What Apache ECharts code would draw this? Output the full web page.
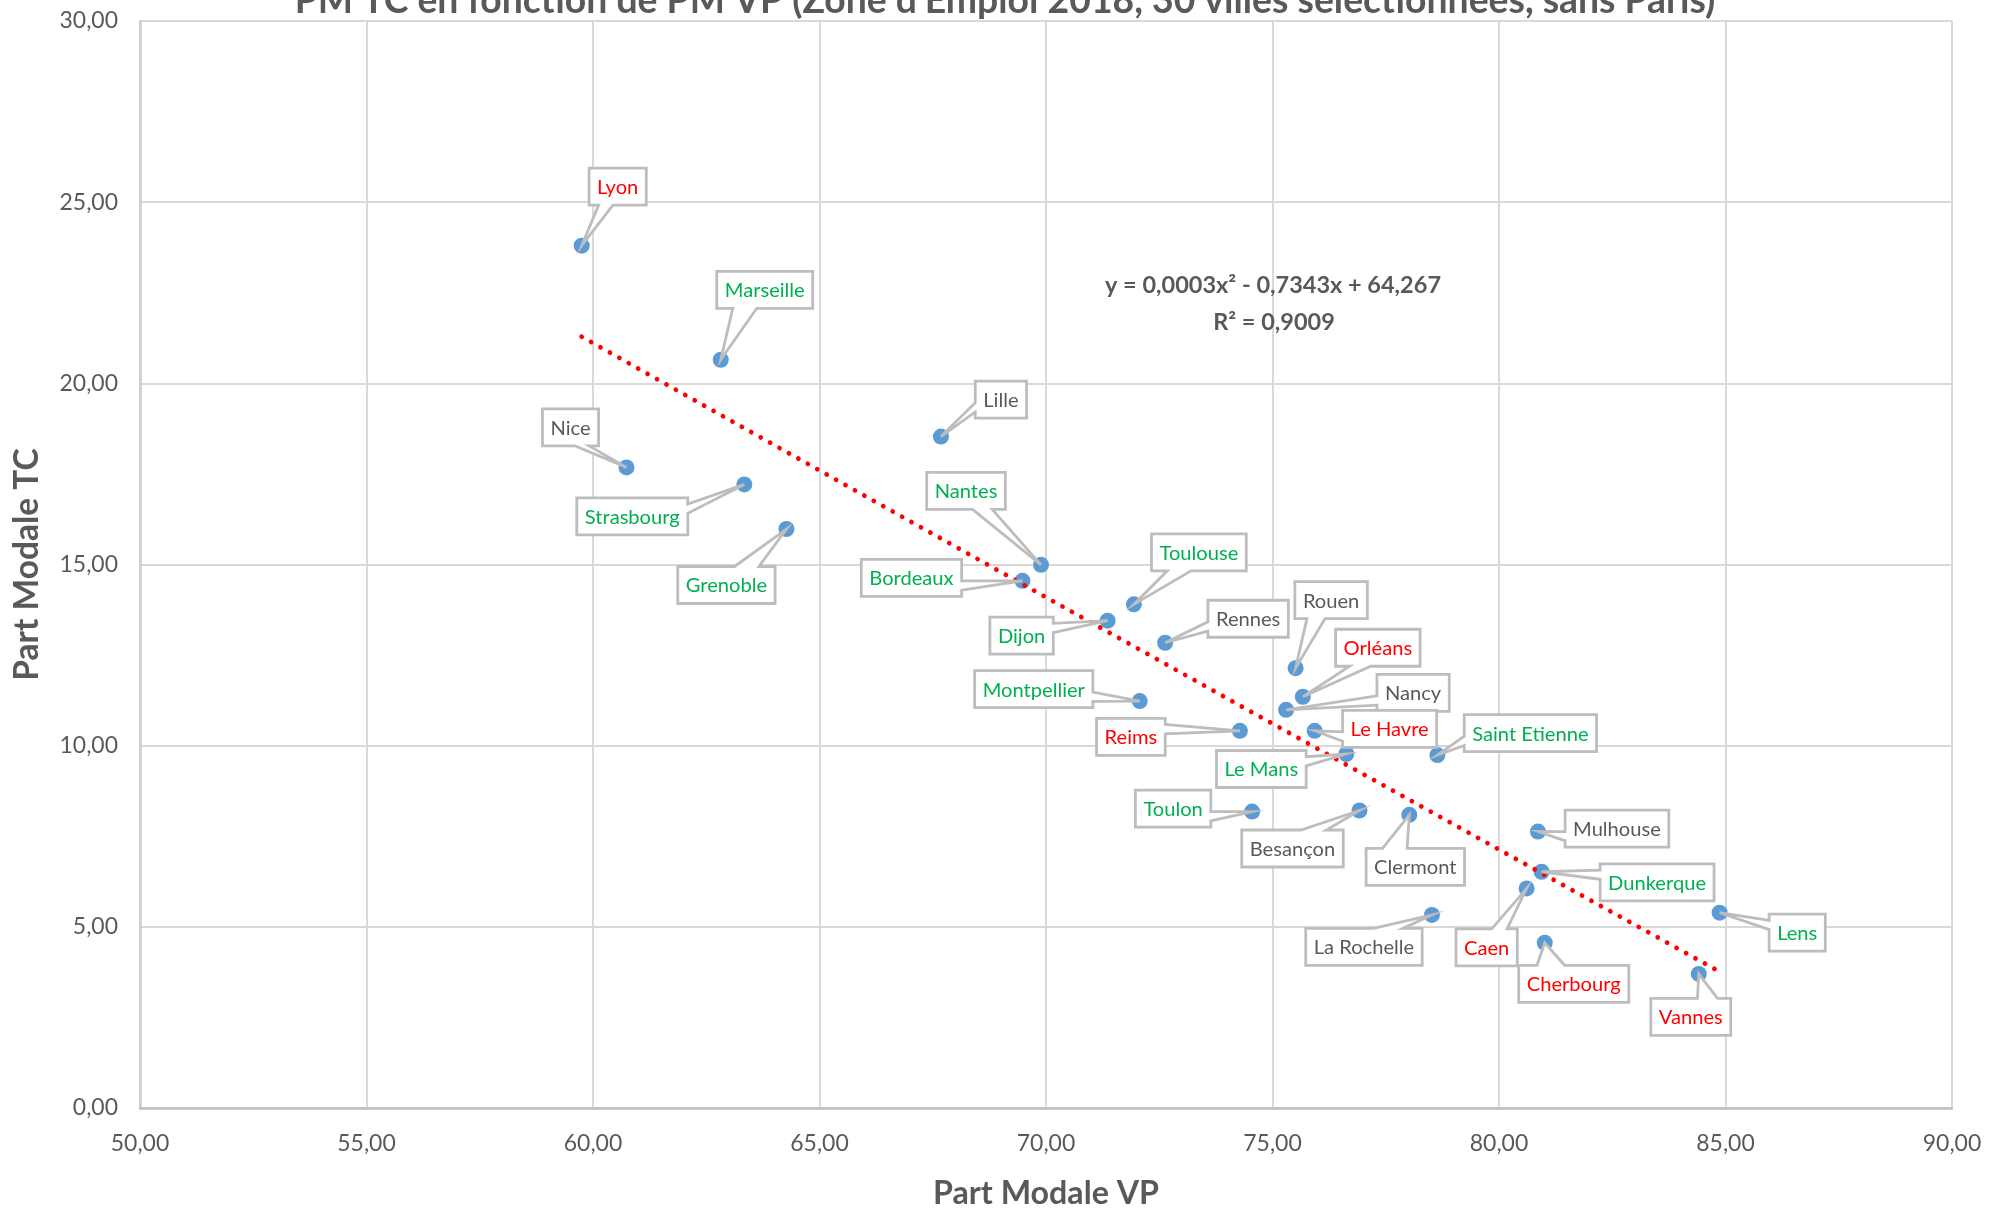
<!DOCTYPE html>
<html><head><meta charset="utf-8">
<script src="https://cdn.jsdelivr.net/npm/echarts@6/dist/echarts.min.js"></script>
<style>html,body{margin:0;padding:0;background:#fff}#c{width:1989px;height:1213px}</style>
</head><body><div id="c"></div>
<script>
// ---------------- DATA ----------------
const cities = ['Lyon','Marseille','Lille','Nice','Strasbourg','Grenoble','Nantes','Bordeaux','Toulouse','Dijon','Rennes','Rouen','Orléans','Nancy','Montpellier','Reims','Le Havre','Le Mans','Saint Etienne','Toulon','Besançon','Clermont','La Rochelle','Caen','Cherbourg','Mulhouse','Dunkerque','Lens','Vannes'];
const pmVP = [59.75,62.82,67.68,60.74,63.34,64.27,69.89,69.48,71.94,71.36,72.63,75.51,75.67,75.30,72.07,74.28,75.93,76.63,78.64,74.55,76.92,78.02,78.52,80.61,81.01,80.86,80.94,84.87,84.41];
const pmTC = [23.80,20.65,18.53,17.68,17.21,15.98,14.99,14.55,13.90,13.45,12.84,12.14,11.35,10.99,11.23,10.41,10.41,9.77,9.74,8.18,8.21,8.09,5.33,6.06,4.56,7.63,6.52,5.39,3.70];
const cityGroup = ['r','g','n','n','g','g','g','g','g','g','n','n','r','n','g','r','r','g','g','g','n','n','n','r','r','n','g','g','r'];
const chartTitle = "PM TC en fonction de PM VP (Zone d'Emploi 2018, 30 villes sélectionnées, sans Paris)";
const xName = 'Part Modale VP';
const yName = 'Part Modale TC';
const eqLine1 = 'y = 0,0003x² - 0,7343x + 64,267';
const eqLine2 = 'R² = 0,9009';

// ---------------- LAYOUT (label callout offsets from point, px) ----------------
const labelOffsets = [[36,-59],[44,-70],[60,-37],[-56,-40],[-112,32],[-60,56],[-75,-74],[-111,-3],[65,-52],[-86,15],[83,-24],[35.5,-68],[75,-49],[127,-17],[-106,-12],[-109,6],[75,-2],[-85,15],[93,-22],[-79,-3],[-67,38],[6,52],[-68,32],[-40,59],[29,41],[79,-3],[115.5,10.6],[77.6,20],[-8,43]];
const groupColors = {r:'#FF0000', g:'#00B050', n:'#595959'};

const FONT = 'Lato, "Open Sans", sans-serif';
const mctx = document.createElement('canvas').getContext('2d');
function textW(t, font){ mctx.font = font; return mctx.measureText(t).width; }
function fitSize(t, weight, target){ return 100 * target / textW(t, weight + ' 100px ' + FONT); }

const labelSize = fitSize('Marseille', 'normal', 80);
const tickSize = fitSize('30,00', 'normal', 58.5);
const axisNameSize = fitSize(xName, 'bold', 226);
const eqSize = fitSize(eqLine1, 'bold', 336);
const titleSize = fitSize(chartTitle, 'bold', 1421);
const labelFont = labelSize.toFixed(2) + 'px ' + FONT;

// quadratic least-squares trend (like Excel's polynomial order 2)
function polyfit2(xs, ys){
  const x0 = 70;
  const S = [0,0,0,0,0], T = [0,0,0];
  xs.forEach((xv,i)=>{ const x = xv - x0; let p = 1; for(let k=0;k<5;k++){ S[k]+=p; if(k<3) T[k]+=ys[i]*p; p*=x; } });
  const A = [[S[0],S[1],S[2],T[0]],[S[1],S[2],S[3],T[1]],[S[2],S[3],S[4],T[2]]];
  for(let c=0;c<3;c++){ for(let r=c+1;r<3;r++){ const f=A[r][c]/A[c][c]; for(let k=c;k<4;k++) A[r][k]-=f*A[c][k]; } }
  const s=[0,0,0];
  for(let r=2;r>=0;r--){ let v=A[r][3]; for(let k=r+1;k<3;k++) v-=A[r][k]*s[k]; s[r]=v/A[r][r]; }
  return x => s[0] + s[1]*(x-x0) + s[2]*(x-x0)*(x-x0);
}
const fit = polyfit2(pmVP, pmTC);
const xMin = Math.min(...pmVP), xMax = Math.max(...pmVP);
const trend = [];
for(let i=0;i<=80;i++){ const x = xMin + (xMax-xMin)*i/80; trend.push([x, fit(x)]); }

function callout(cx, cy, w, h, tx, ty){
  const l=cx-w/2, r=cx+w/2, t=cy-h/2, b=cy+h/2;
  const dx=tx-cx, dy=ty-cy;
  if (tx>=l && tx<=r && ty>=t && ty<=b) return [[l,t],[r,t],[r,b],[l,b]];
  const dz = Math.abs(dy) - Math.abs(dx*h/w);
  const x1=l+w*(dx>0?7:2)/12, x2=l+w*(dx>0?10:5)/12;
  const y1=t+h*(dy>0?7:2)/12, y2=t+h*(dy>0?10:5)/12;
  const p=[[l,t]];
  if(dz>0 && dy<0) p.push([x1,t],[tx,ty],[x2,t]);
  p.push([r,t]);
  if(dz<=0 && dx>0) p.push([r,y1],[tx,ty],[r,y2]);
  p.push([r,b]);
  if(dz>0 && dy>0) p.push([x2,b],[tx,ty],[x1,b]);
  p.push([l,b]);
  if(dz<=0 && dx<0) p.push([l,y2],[tx,ty],[l,y1]);
  return p;
}

const fmt = v => v.toFixed(2).replace('.', ',');
const chart = echarts.init(document.getElementById('c'), null, {renderer:'canvas'});
const points = pmVP.map((x,i)=>[x, pmTC[i]]);

chart.setOption({
  backgroundColor:'#ffffff',
  animation:false,
  grid:{left:140, right:37, top:21, bottom:105, containLabel:false, outerBoundsMode:'none'},
  xAxis:{type:'value', min:50, max:90, interval:5,
    name:xName, nameLocation:'middle', nameGap:70,
    nameTextStyle:{fontFamily:FONT, fontWeight:'bold', fontSize:axisNameSize, color:'#595959'},
    axisLine:{show:true, lineStyle:{color:'#BFBFBF', width:2.5}},
    axisTick:{show:false},
    axisLabel:{formatter:fmt, margin:24, fontFamily:FONT, fontSize:tickSize, color:'#595959'},
    splitLine:{show:true, lineStyle:{color:'#D9D9D9', width:2}}
  },
  yAxis:{type:'value', min:0, max:30, interval:5,
    name:yName, nameLocation:'middle', nameGap:96, nameRotate:90,
    nameTextStyle:{fontFamily:FONT, fontWeight:'bold', fontSize:axisNameSize*1.04, color:'#595959'},
    axisLine:{show:true, lineStyle:{color:'#CCCCCC', width:2.5}},
    axisTick:{show:false},
    axisLabel:{formatter:fmt, margin:22, fontFamily:FONT, fontSize:tickSize, color:'#595959'},
    splitLine:{show:true, lineStyle:{color:'#D9D9D9', width:2}}
  },
  graphic:[
    {type:'text', x:1005, y:1, z:10, style:{text:chartTitle, font:'bold '+titleSize.toFixed(2)+'px '+FONT, fill:'#595959', align:'center', verticalAlign:'middle'}},
    {type:'text', x:1273, y:285, z:10, style:{text:eqLine1, font:'bold '+eqSize.toFixed(2)+'px '+FONT, fill:'#595959', align:'center', verticalAlign:'middle'}},
    {type:'text', x:1274, y:322, z:10, style:{text:eqLine2, font:'bold '+eqSize.toFixed(2)+'px '+FONT, fill:'#595959', align:'center', verticalAlign:'middle'}}
  ],
  series:[
    {type:'scatter', data:points, symbol:'circle', symbolSize:16, z:2,
      itemStyle:{color:'#5B9BD5', opacity:1}, emphasis:{disabled:true}},
    {type:'line', data:trend, showSymbol:false, symbol:'none', z:3, silent:true, smooth:false,
      lineStyle:{color:'#FF0000', width:4.8, type:[0.01,10.8], cap:'round'}},
    {type:'custom', data:points, z:4, silent:true, clip:false,
      renderItem:(params, api)=>{
        const i = params.dataIndex;
        const pt = api.coord([api.value(0), api.value(1)]);
        const off = labelOffsets[i];
        const cx = pt[0]+off[0], cy = pt[1]+off[1];
        const name = cities[i];
        const w = textW(name, labelFont) + 16, h = 37;
        const poly = callout(cx, cy, w, h, pt[0], pt[1]);
        return {type:'group', children:[
          {type:'polygon', shape:{points:poly}, style:{fill:'#FFFFFF', stroke:'#BDBDBD', lineWidth:2.8, lineJoin:'miter'}},
          {type:'text', x:cx, y:cy+1, style:{text:name, font:labelFont, fill:groupColors[cityGroup[i]], align:'center', verticalAlign:'middle'}}
        ]};
      }}
  ]
});
</script></body></html>
